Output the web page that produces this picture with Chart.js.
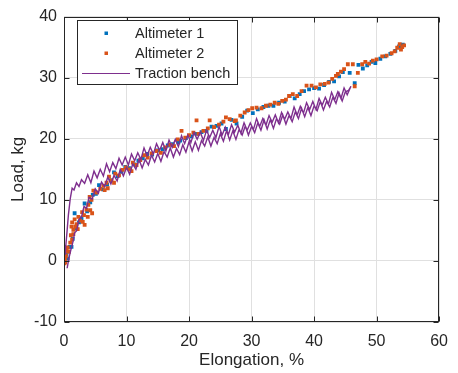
<!DOCTYPE html>
<html>
<head>
<meta charset="utf-8">
<script src="https://cdn.jsdelivr.net/npm/chart.js@4"></script>
<style>
  body { margin: 0; background: #fff; }
  #wrap { width: 458px; height: 373px; position: relative; }
</style>
</head>
<body>
<div id="wrap"><canvas id="loadChart"></canvas></div>
<script>
// axis limits and tick step (MATLAB figure)
let xTickMin = 0, xTickMax = 60, xStep = 10;
let yTickMin = -10, yTickMax = 40, yStep = 10;

let labelNames = ['Altimeter 1', 'Altimeter 2', 'Traction bench'];

// Altimeter 1 : elongation (%) / load (kg)
let alt1Elong = [
  0.0,0.2,0.4,0.6,0.9,1.2,1.4,1.7,2.0,2.4,
  2.8,3.3,3.7,4.2,4.6,5.1,5.6,6.2,6.9,7.5,
  8.0,8.6,9.2,9.8,10.4,11.2,11.9,12.6,13.3,14.1,
  14.9,15.8,16.6,17.4,18.3,18.6,19.5,20.4,21.2,22.0,
  22.8,23.6,24.4,25.2,25.9,26.8,27.6,28.5,29.3,30.2,
  31.0,31.9,32.7,33.5,34.4,35.3,36.1,36.9,37.7,38.4,
  39.2,40.0,40.8,41.6,42.4,43.2,44.0,44.6,45.7,46.5,
  47.1,47.8,48.5,49.2,49.8,50.6,51.4,52.2,53.0,53.6,
  54.2
];
let alt1Load = [
  0.0,0.6,1.1,0.4,2.3,2.3,3.6,7.8,5.3,6.3,
  7.0,9.4,8.1,9.6,10.8,11.0,12.4,11.7,12.5,13.2,
  14.5,13.9,14.6,15.4,15.2,15.8,16.4,16.8,17.5,17.4,
  18.1,18.3,18.9,19.1,19.4,19.7,20.1,20.4,20.8,21.1,
  21.3,22.0,22.1,22.5,21.6,23.1,22.5,23.6,24.6,24.2,
  24.8,25.2,25.4,25.4,25.9,26.1,27.0,26.6,27.3,27.8,
  28.1,28.3,28.2,28.8,29.3,29.4,30.2,30.9,30.8,29.1,
  32.1,31.5,32.0,32.6,32.4,33.1,33.5,33.9,34.4,35.1,
  35.4
];

// Altimeter 2
let alt2Elong = [
  0.0,0.1,0.2,0.3,0.4,0.6,0.8,1.0,1.1,1.2,
  1.3,1.5,1.7,2.0,2.3,2.6,2.9,3.2,3.6,3.9,
  4.1,4.4,4.7,5.2,5.8,6.3,6.8,7.2,7.6,8.2,
  8.8,9.4,9.9,10.5,11.0,11.6,12.2,12.8,13.4,14.0,
  14.8,15.5,16.2,17.0,17.6,18.2,18.8,19.4,20.0,20.7,
  21.2,21.5,22.3,23.0,23.3,24.0,24.8,25.5,25.9,26.5,
  27.3,27.5,28.2,28.9,29.5,30.1,30.8,31.6,32.3,33.0,
  33.7,34.3,34.9,35.5,36.0,36.6,37.3,38.0,38.8,39.6,
  40.3,41.0,41.7,42.3,42.9,43.5,43.8,44.3,44.8,45.4,
  46.2,46.5,47.0,47.7,48.2,48.8,49.4,50.0,50.9,51.6,
  52.4,52.9,53.3,53.7,54.1,54.4,53.9,
  0.1,0.2,0.3,1.3,1.5,1.8,2.2,3.0,3.3,3.8,
  4.2,4.5,6.5,7.0,8.0,10.8
];
let alt2Load = [
  0.3,1.2,-0.2,0.8,1.6,2.2,1.5,3.0,4.2,5.6,
  6.3,5.1,6.8,6.0,7.2,6.6,8.0,7.5,8.4,9.2,
  10.5,10.0,11.5,11.2,11.8,12.3,12.8,13.8,13.2,14.3,
  14.0,14.9,15.3,15.0,16.1,15.7,16.5,17.3,16.9,17.6,
  18.0,17.7,18.6,19.0,18.8,19.9,21.3,20.2,20.6,21.0,
  23.0,20.8,21.3,21.7,23.0,21.9,22.3,22.8,23.5,23.2,
  22.9,23.0,23.8,24.3,24.7,25.0,25.1,25.0,25.4,25.6,
  25.9,25.7,26.2,26.4,27.0,27.3,27.0,27.8,28.7,28.7,
  28.4,28.9,29.0,29.2,29.8,30.3,30.6,31.0,31.4,32.2,
  32.2,28.6,30.8,32.2,32.6,32.3,32.8,33.0,33.5,33.6,
  34.0,34.3,34.9,35.5,35.0,35.3,34.6,
  -0.4,0.4,1.9,3.5,4.4,5.6,5.2,6.4,5.9,7.2,
  8.3,7.8,11.6,11.9,12.8,14.7
];

// Traction bench : loading branch, then return branch
let benchElong = [
  0.5,0.8,1.1,1.4,1.7,2.0,2.4,2.8,3.2,3.6,
  4.0,4.5,5.0,5.5,6.0,6.5,7.0,7.5,8.0,8.5,
  9.0,9.5,10.0,10.5,11.0,11.5,12.0,12.5,13.0,13.5,
  14.0,14.5,15.0,15.5,16.0,16.5,17.0,17.5,18.0,18.5,
  19.0,19.5,20.0,20.5,21.0,21.5,22.0,22.5,23.0,23.5,
  24.0,24.5,25.0,25.5,26.0,26.5,27.0,27.5,28.0,28.5,
  29.0,29.5,30.0,30.5,31.0,31.5,32.0,32.5,33.0,33.5,
  34.0,34.5,35.0,35.5,36.0,36.5,37.0,37.5,38.0,38.5,
  39.0,39.5,40.0,40.5,41.0,41.5,42.0,42.5,43.0,43.5,
  44.0,44.5,45.0,45.5,45.9,
  45.3,44.8,44.3,43.8,43.3,42.8,42.3,41.8,41.3,40.8,
  40.3,39.8,39.3,38.8,38.3,37.8,37.3,36.8,36.3,35.8,
  35.3,34.8,34.3,33.8,33.3,32.8,32.3,31.8,31.3,30.8,
  30.3,29.8,29.3,28.8,28.3,27.8,27.3,26.8,26.3,25.8,
  25.3,24.8,24.3,23.8,23.3,22.8,22.3,21.8,21.3,20.8,
  20.3,19.8,19.3,18.8,18.3,17.8,17.3,16.8,16.3,15.8,
  15.3,14.8,14.3,13.8,13.3,12.8,12.3,11.8,11.3,10.8,
  10.3,9.8,9.3,8.8,8.3,7.8,7.3,6.8,6.3,5.8,
  5.3,4.8,4.3,3.8,3.3,
  2.8,2.4,2.0,1.6,1.3,1.0,0.7,0.5,0.3,0.2
];
let benchLoad = [
  -1.2,0.5,1.8,3.0,4.6,4.9,6.8,7.2,8.9,8.6,
  10.4,10.1,11.8,11.1,12.9,12.2,13.7,12.6,14.0,13.1,
  15.0,13.9,15.3,14.2,15.9,15.0,16.6,15.2,16.6,15.7,
  17.3,16.2,17.6,16.3,17.9,17.0,18.5,17.0,18.4,17.4,
  19.0,17.8,19.5,18.0,19.5,18.1,19.7,18.8,20.3,18.8,
  20.2,19.2,20.8,19.6,21.3,19.8,21.3,19.9,21.5,20.6,
  22.1,20.6,22.0,21.0,22.6,21.4,23.1,21.6,23.1,21.7,
  23.3,22.4,23.9,22.4,23.8,22.8,24.4,23.3,25.0,23.6,
  25.1,23.8,25.4,24.6,26.1,24.7,26.1,25.2,26.8,25.8,
  27.5,26.2,27.7,27.9,28.6,
  27.2,28.3,26.6,27.7,26.4,27.6,25.7,26.8,25.5,26.6,
  24.8,26.1,24.8,25.9,24.2,25.3,23.9,25.2,23.3,24.4,
  23.2,24.3,22.6,23.9,22.7,23.8,22.2,23.3,22.0,23.3,
  21.5,22.6,21.4,22.6,20.9,22.2,21.1,22.3,20.7,21.9,
  20.6,22.0,20.2,21.4,20.2,21.4,19.7,21.1,19.9,21.0,
  19.4,20.6,19.2,20.5,18.7,19.9,18.6,19.8,18.0,19.4,
  18.1,19.2,17.5,18.6,17.2,18.5,16.6,17.7,16.4,17.5,
  15.7,17.0,15.7,16.8,15.1,16.1,14.6,15.9,13.9,15.0,
  13.6,14.7,12.8,14.1,12.7,
  13.3,12.2,12.8,11.6,11.9,10.2,7.5,5.0,2.6,1.0
];

let colBlue = '#0072BD';
let colOrange = '#D95319';
let colPurple = '#7E2F8E';
let axisCol = '#262626';
let fontFam = '"Liberation Sans", Arial, Helvetica, sans-serif';

let toPoints = (xs, ys) => xs.map((v, i) => ({ x: v, y: ys[i] }));

// box around the axes, inward ticks and the legend (MATLAB look)
let matlabFrame = {
  id: 'matlabFrame',
  afterDraw(chart) {
    let ctx = chart.ctx;
    let a = chart.chartArea;
    let sx = chart.scales.x, sy = chart.scales.y;
    let L = Math.round(a.left) + 0.5, R = Math.round(a.right) - 0.5;
    let T = Math.round(a.top) + 0.5, B = Math.round(a.bottom) - 0.5;
    let tl = 5;

    ctx.save();
    ctx.strokeStyle = axisCol;
    ctx.lineWidth = 1;
    ctx.strokeRect(L, T, R - L, B - T);

    ctx.beginPath();
    sx.ticks.forEach(t => {
      let px = Math.round(sx.getPixelForValue(t.value)) + 0.5;
      ctx.moveTo(px, B); ctx.lineTo(px, B - tl);
      ctx.moveTo(px, T); ctx.lineTo(px, T + tl);
    });
    sy.ticks.forEach(t => {
      let py = Math.round(sy.getPixelForValue(t.value)) + 0.5;
      ctx.moveTo(L, py); ctx.lineTo(L + tl, py);
      ctx.moveTo(R, py); ctx.lineTo(R - tl, py);
    });
    ctx.stroke();

    // legend
    let lx = 77.5, ly = 20.5, lw = 160, lh = 64;
    ctx.fillStyle = '#fff';
    ctx.fillRect(lx, ly, lw, lh);
    ctx.strokeStyle = axisCol;
    ctx.strokeRect(lx, ly, lw, lh);

    let rows = [33, 53, 73];
    ctx.font = '14.5px ' + fontFam;
    ctx.textBaseline = 'middle';
    ctx.textAlign = 'left';
    chart.data.datasets.forEach((ds, i) => {
      let yy = rows[i];
      if (ds.showLine) {
        ctx.strokeStyle = ds.borderColor;
        ctx.lineWidth = 1.2;
        ctx.beginPath();
        ctx.moveTo(82, yy + 0.5); ctx.lineTo(130, yy + 0.5);
        ctx.stroke();
      } else {
        ctx.fillStyle = ds.backgroundColor;
        ctx.fillRect(104.5, yy - 1.5, 3.5, 3.5);
      }
      ctx.fillStyle = axisCol;
      ctx.fillText(ds.label, 135, yy + 1);
    });
    ctx.restore();
  }
};

let ctx = document.getElementById('loadChart').getContext('2d');

let myChart = new Chart(ctx, {
  type: 'scatter',
  data: {
    datasets: [
      {
        label: labelNames[0],
        data: toPoints(alt1Elong, alt1Load),
        backgroundColor: colBlue,
        borderWidth: 0,
        pointStyle: 'rect',
        pointRadius: 2.7,
        order: 2
      },
      {
        label: labelNames[1],
        data: toPoints(alt2Elong, alt2Load),
        backgroundColor: colOrange,
        borderWidth: 0,
        pointStyle: 'rect',
        pointRadius: 2.7,
        order: 1
      },
      {
        label: labelNames[2],
        data: toPoints(benchElong, benchLoad),
        showLine: true,
        borderColor: colPurple,
        backgroundColor: colPurple,
        borderWidth: 1.4,
        pointRadius: 0,
        tension: 0,
        order: 0
      }
    ]
  },
  options: {
    responsive: true,
    maintainAspectRatio: false,
    animation: false,
    events: [],
    layout: { padding: { left: 0, top: 15, right: 10, bottom: 0 } },
    plugins: {
      legend: { display: false },
      tooltip: { enabled: false }
    },
    scales: {
      x: {
        type: 'linear',
        min: xTickMin,
        max: xTickMax,
        afterFit: s => { s.height = 51; },
        ticks: {
          stepSize: xStep,
          color: axisCol,
          padding: 10,
          maxRotation: 0,
          font: { family: fontFam, size: 16 }
        },
        grid: { color: '#e0e0e0', drawTicks: false },
        border: { display: false },
        title: {
          display: true,
          text: 'Elongation, %',
          color: axisCol,
          font: { family: fontFam, size: 17 },
          padding: { top: 0, bottom: 2 }
        }
      },
      y: {
        type: 'linear',
        min: yTickMin,
        max: yTickMax,
        afterFit: s => { s.width = 64; },
        ticks: {
          stepSize: yStep,
          color: axisCol,
          padding: 7,
          font: { family: fontFam, size: 16 }
        },
        grid: { color: '#e0e0e0', drawTicks: false },
        border: { display: false },
        title: {
          display: true,
          text: 'Load, kg',
          color: axisCol,
          font: { family: fontFam, size: 17 },
          padding: { top: 8, bottom: 0 }
        }
      }
    }
  },
  plugins: [matlabFrame]
});
</script>
</body>
</html>
